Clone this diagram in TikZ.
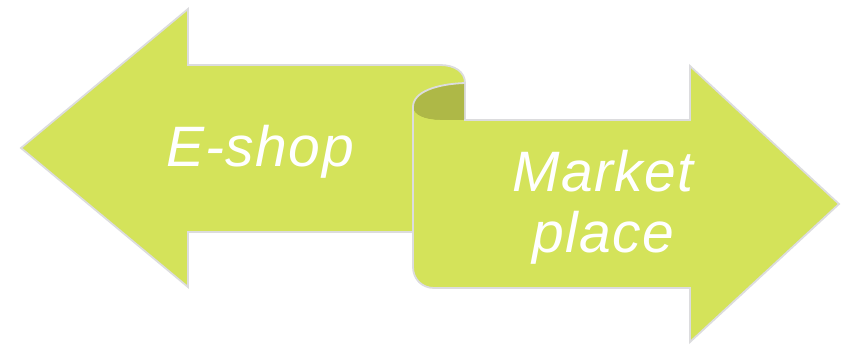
\documentclass[tikz,border=0pt]{standalone}
\usepackage{fontspec}
\setmainfont{Liberation Sans}[LetterSpace=2.5]
\usepackage{tikz}
\usetikzlibrary{calc,positioning}

\begin{document}
\begin{tikzpicture}[
    x=1pt, y=-1pt,
    every node/.style={font=\itshape\fontsize{57}{61}\selectfont, text=white, align=center},
  ]
    \definecolor{arrowlime}{HTML}{D4E35A}
    \definecolor{curlshade}{HTML}{AEB847}
    \definecolor{arrowedge}{HTML}{DCDCDE}
    \tikzset{
      arrowline/.style={draw=arrowedge, line width=1.8pt, line join=miter},
    }

    \useasboundingbox (0,0) rectangle (841,345);

    % ============ left arrow: E-shop ============
    \fill[arrowlime] (21,148) -- (188,9) -- (188,65) -- (440,65)
      .. controls (455,65) and (465,72) .. (465,83) -- (465,232)
      -- (188,232) -- (188,287) -- cycle;
    \draw[arrowline] (21,148) -- (188,9) -- (188,65) -- (440,65)
      .. controls (455,65) and (465,72) .. (465,83) -- (465,232)
      -- (188,232) -- (188,287) -- cycle;

    % ============ rolled corner ============
    \fill[curlshade] (464,83) .. controls (436,84) and (413,92) .. (413,107)
      .. controls (413,115) and (425,120) .. (440,120) -- (464,120) -- cycle;
    \draw[arrowline] (465,83) .. controls (436,84) and (413,92) .. (413,107);

    % ============ right arrow: Market place ============
    \fill[arrowlime] (413,107) .. controls (413,115) and (425,120) .. (440,120)
      -- (690,120) -- (690,66) -- (839,204) -- (690,342) -- (690,288)
      -- (434,288) .. controls (422,288) and (413,279) .. (413,267) -- cycle;
    \draw[arrowline] (464,120) -- (690,120) -- (690,66) -- (839,204)
      -- (690,342) -- (690,288) -- (434,288)
      .. controls (422,288) and (413,279) .. (413,267) -- (413,107);

    \node (eshop) at (260,152) {E-shop};
    \node (market) at (603,207) {Market\\place};
  \end{tikzpicture}
\end{document}
